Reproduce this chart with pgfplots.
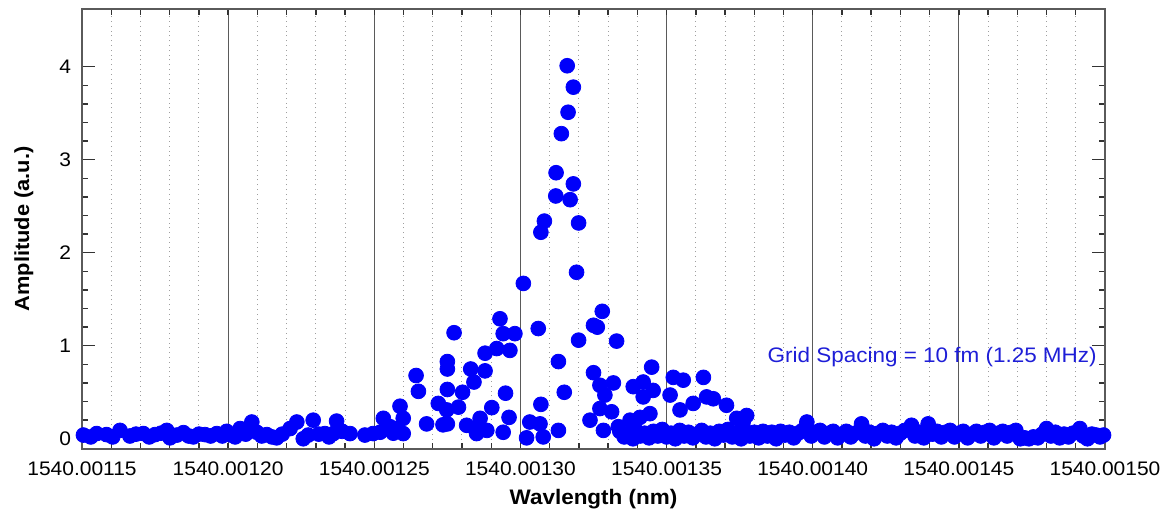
\documentclass[border=0pt]{standalone}
\usepackage{fontspec}
\setmainfont{Liberation Sans}[FakeStretch=1.07]
\usepackage{pgfplots}
\usepackage{pgfplotstable}
\pgfplotsset{compat=1.18}
\definecolor{ptblue}{RGB}{0,0,250}
\definecolor{txtblue}{RGB}{30,30,215}
\definecolor{gridgray}{RGB}{90,90,90}

% x = wavelength offset from 1540.00100 nm, in fm (1540.00115 nm -> 150)
\pgfplotstableread{
x y
150.5 0.04
153.0 0.02
155.0 0.056
158.4 0.045
160.5 0.02
163.0 0.09
166.4 0.03
168.5 0.05
171.0 0.056
173.0 0.02
175.0 0.045
177.0 0.06
179.0 0.09
180.1 0.01
182.5 0.04
184.7 0.066
186.5 0.03
188.1 0.02
190.0 0.05
192.1 0.045
194.0 0.03
196.1 0.056
198.0 0.03
199.5 0.08
201.0 0.04
202.4 0.02
204.1 0.11
206.0 0.05
208.1 0.18
209.8 0.07
211.5 0.03
213.2 0.045
215.0 0.02
216.6 0.01
218.5 0.05
221.2 0.11
223.5 0.18
225.7 0.0
227.4 0.04
229.1 0.20
231.0 0.05
233.1 0.056
234.5 0.02
236.0 0.056
237.1 0.19
239.0 0.08
241.7 0.056
246.8 0.04
249.6 0.056
252.0 0.07
253.1 0.22
255.4 0.13
256.5 0.06
257.7 0.11
258.8 0.35
259.9 0.22
259.9 0.056
264.3 0.68
265.1 0.51
267.9 0.16
271.9 0.38
273.5 0.15
275.0 0.83
275.0 0.75
275.0 0.53
274.8 0.31
275.0 0.16
277.3 1.14
278.8 0.34
280.2 0.50
281.6 0.145
283.0 0.75
284.1 0.61
284.4 0.11
285.0 0.056
286.2 0.22
287.9 0.73
287.9 0.92
288.5 0.09
290.2 0.335
291.9 0.97
293.0 1.29
294.1 1.13
294.1 0.07
294.9 0.49
296.1 0.23
296.4 0.95
298.1 1.13
301.0 1.67
302.1 0.01
303.2 0.18
306.1 1.185
306.7 0.16
307.0 0.37
307.8 0.02
307.0 2.22
308.2 2.34
312.1 2.61
312.2 2.86
313.0 0.83
313.0 0.09
314.0 3.28
315.0 0.50
316.0 4.01
316.3 3.51
317.0 2.57
318.1 3.78
318.1 2.74
319.2 1.79
319.9 2.32
319.9 1.06
323.8 0.20
325.0 1.22
325.0 0.71
326.3 1.20
327.2 0.575
327.2 0.325
328.0 1.37
328.4 0.09
328.9 0.47
331.2 0.29
331.8 0.60
332.9 1.05
333.5 0.13
334.0 0.08
335.5 0.02
337.0 0.05
337.5 0.20
338.5 0.0
338.6 0.56
339.5 0.09
340.9 0.23
341.0 0.03
342.0 0.61
342.0 0.45
342.5 0.06
344.0 0.01
344.3 0.27
344.9 0.77
345.4 0.52
345.5 0.08
347.0 0.03
348.5 0.10
350.0 0.02
351.2 0.47
351.5 0.06
352.3 0.66
353.0 0.0
354.5 0.09
354.6 0.31
355.7 0.63
356.0 0.03
357.5 0.07
359.0 0.01
359.1 0.38
360.5 0.05
362.0 0.09
362.6 0.66
363.5 0.02
363.7 0.45
365.0 0.06
366.0 0.43
366.5 0.0
368.0 0.08
369.5 0.04
370.5 0.36
371.0 0.10
372.5 0.02
374.0 0.22
374.0 0.06
375.5 0.0
376.2 0.18
377.0 0.08
377.4 0.25
378.5 0.03
380.0 0.07
381.5 0.01
383.0 0.08
384.5 0.03
386.0 0.07
387.5 0.0
389.0 0.08
390.5 0.04
392.0 0.07
393.5 0.01
395.0 0.06
396.5 0.09
398.0 0.18
399.5 0.03
401.0 0.07
402.5 0.09
404.0 0.02
405.5 0.06
407.0 0.08
408.5 0.01
410.0 0.05
411.5 0.08
413.0 0.02
414.5 0.06
416.7 0.16
418.0 0.03
419.5 0.07
421.0 0.0
422.5 0.06
424.0 0.09
425.5 0.03
427.0 0.07
428.5 0.01
430.0 0.06
431.5 0.09
433.8 0.145
435.0 0.03
436.5 0.07
438.0 0.01
439.5 0.16
441.0 0.05
442.5 0.08
444.0 0.02
445.5 0.07
447.0 0.09
448.5 0.02
450.0 0.06
451.5 0.08
453.0 0.01
454.5 0.05
456.0 0.08
457.5 0.03
459.0 0.07
460.5 0.09
462.0 0.01
463.5 0.06
465.0 0.08
466.5 0.03
468.0 0.07
469.5 0.09
471.0 0.0
472.5 0.01
474.0 0.0
475.5 0.02
477.0 0.01
478.5 0.05
480.0 0.11
481.5 0.03
483.0 0.07
484.5 0.01
486.0 0.05
487.5 0.02
489.0 0.06
491.4 0.11
492.5 0.03
494.0 0.0
495.5 0.05
497.0 0.04
498.3 0.02
499.5 0.04
}\spectrum

\begin{document}
\begin{tikzpicture}
\useasboundingbox (-41pt,-33.5pt) rectangle (540.5pt,224.5pt);
\begin{axis}[
  scale only axis, width=511.5pt, height=220pt,
  xmin=150, xmax=500, ymin=-0.11, ymax=4.62,
  xtick={150,200,250,300,350,400,450,500},
  xticklabels={1540.00115,1540.00120,1540.00125,1540.00130,1540.00135,1540.00140,1540.00145,1540.00150},
  minor tick num=4,
  ytick={0,1,2,3,4},
  xmajorgrids, xminorgrids,
  major grid style={gridgray, line width=0.55pt},
  minor grid style={gray!75, dotted, line width=0.5pt},
  axis line style={gridgray, line width=0.9pt},
  tick style={black!80, line width=0.7pt},
  major tick length=3pt, minor tick length=3pt,
  y tick style={/pgfplots/major tick length=6.5pt},
  tick label style={font=\fontsize{9.8}{11}\selectfont},
  xticklabel style={yshift=-3pt},
  yticklabel style={xshift=-2pt},
  /pgf/number format/assume math mode=true,
  clip=false,
]
\addplot[only marks, mark=*, mark size=3.7pt, ptblue,
  mark options={fill=ptblue, draw=ptblue}] table[x=x, y=y] {\spectrum};
\node[anchor=east, inner sep=0pt, text=txtblue, font=\fontsize{10.5}{12}\selectfont]
  at (axis cs:497.3,0.88) {Grid Spacing = 10 fm (1.25 MHz)};
\node[anchor=base, font=\bfseries\fontsize{10.5}{12}\selectfont]
  at ([yshift=-27.5pt]rel axis cs:0.5,0) {Wavlength (nm)};
\node[anchor=base, rotate=90, font=\bfseries\fontsize{10.2}{12}\selectfont]
  at ([xshift=-26.5pt]rel axis cs:0,0.5) {Amplitude (a.u.)};
\end{axis}
\end{tikzpicture}
\end{document}
